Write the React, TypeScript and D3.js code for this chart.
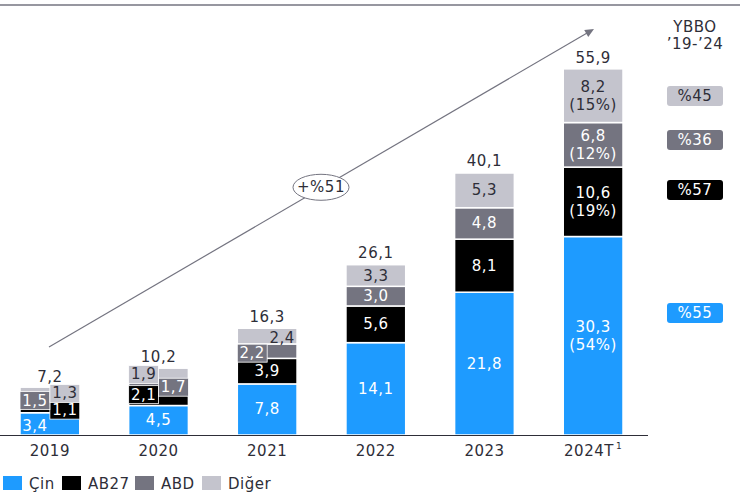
import * as d3 from "d3";

// ── Data ──────────────────────────────────────────────
const YEARS = ["2019", "2020", "2021", "2022", "2023", "2024T"];
const SERIES = ["Çin", "AB27", "ABD", "Diğer"];
const CIN = [3.4, 4.5, 7.8, 14.1, 21.8, 30.3];
const AB27 = [1.1, 2.1, 3.9, 5.6, 8.1, 10.6];
const ABD = [1.5, 1.7, 2.2, 3.0, 4.8, 6.8];
const DIGER = [1.3, 1.9, 2.4, 3.3, 5.3, 8.2];
const TOTALS = [7.2, 10.2, 16.3, 26.1, 40.1, 55.9];
const CAGR = ["%55", "%57", "%36", "%45"];
const ARROW_LABEL = "+%51";
const CAGR_TITLE = ["YBBO", "’19-’24"];

// ── Styles / layout ───────────────────────────────────────
const W = 745;
const H = 496;
const BASE_Y = 435;
const COLORS = ["#1E9BFF", "#000000", "#747480", "#C4C4CD"];
const TEXT_ON = ["#ffffff", "#ffffff", "#ffffff", "#2E2E38"];
const DARK = "#2E2E38";
const FONT = "'DejaVu Sans', Verdana, sans-serif";
const FS = 15;
const LS = 0.5;

// small-segment label placement: pos = half of the bar, box = coloured backing
type Lbl = { pos: "c" | "l" | "r"; box?: boolean; dy?: number };
const LABELS: Record<string, Lbl> = {
  "2019|Çin": { pos: "l", dy: 2 },
  "2019|AB27": { pos: "r", box: true, dy: 1 },
  "2019|ABD": { pos: "l", box: true, dy: 0 },
  "2019|Diğer": { pos: "r", box: true, dy: 2 },
  "2020|AB27": { pos: "l", box: true, dy: -4 },
  "2020|ABD": { pos: "r", box: true, dy: 1 },
  "2020|Diğer": { pos: "l", box: true, dy: 0 },
  "2021|ABD": { pos: "l", box: true, dy: 2 },
  "2021|Diğer": { pos: "r", dy: 2 },
};
// CAGR badges (y centres per series)
const BADGE_Y = [313, 190, 140, 96];
const LEGEND_X = [3, 62, 135, 202];

const fmt = (v: number) => v.toFixed(1).replace(".", ",");

export default function App() {
  const rows = YEARS.map((y, i) => ({
    year: y,
    "Çin": CIN[i],
    AB27: AB27[i],
    ABD: ABD[i],
    "Diğer": DIGER[i],
  }));
  const stack = d3.stack<any>().keys(SERIES)(rows);

  const x = d3.scaleBand<string>().domain(YEARS).range([20, 623]).paddingInner(0.45).paddingOuter(0);
  const y = d3.scaleLinear().domain([0, 60]).range([BASE_Y, BASE_Y - 60 * 6.55]);
  const bw = x.bandwidth();
  const last = YEARS.length - 1;

  // growth arrow
  const a0 = { x: 49, y: 347 };
  const a1 = { x: 594, y: 29 };
  const ang = Math.atan2(a1.y - a0.y, a1.x - a0.x);
  const ah = 9;
  const arrowHead = `M${a1.x},${a1.y} L${a1.x - ah * Math.cos(ang) + 4 * Math.sin(ang)},${a1.y - ah * Math.sin(ang) - 4 * Math.cos(ang)} L${a1.x - ah * Math.cos(ang) - 4 * Math.sin(ang)},${a1.y - ah * Math.sin(ang) + 4 * Math.cos(ang)} Z`;
  const ex = 321;
  const ey = a0.y + ((ex - a0.x) * (a1.y - a0.y)) / (a1.x - a0.x);

  return (
    <div style={{ position: "absolute", left: 0, top: 0 }}>
      <svg width={W} height={H} style={{ fontFamily: FONT, display: "block", letterSpacing: LS }}>
        <rect width={W} height={H} fill="#fff" />
        {/* top rule */}
        <line x1={0} x2={740} y1={5} y2={5} stroke="#747480" strokeWidth={1.5} />

        {/* arrow */}
        <line x1={a0.x} y1={a0.y} x2={a1.x - 6 * Math.cos(ang)} y2={a1.y - 6 * Math.sin(ang)} stroke="#747480" strokeWidth={1.2} />
        <path d={arrowHead} fill="#747480" />
        <ellipse cx={ex} cy={ey - 1} rx={28} ry={13} fill="#fff" stroke="#747480" strokeWidth={1} />
        <text x={ex} y={ey + 4} textAnchor="middle" fontSize={FS} fill={DARK}>
          {ARROW_LABEL}
        </text>

        {/* segments */}
        {stack.map((s, si) =>
          s.map((d, i) => (
            <rect
              key={`${si}-${i}`}
              x={x(YEARS[i])!}
              width={bw}
              y={y(d[1])}
              height={y(d[0]) - y(d[1])}
              fill={COLORS[si]}
              stroke="#fff"
              strokeWidth={1.5}
            />
          ))
        )}

        {/* segment labels */}
        {stack.map((s, si) =>
          s.map((d, i) => {
            const key = `${YEARS[i]}|${SERIES[si]}`;
            const cfg = LABELS[key] ?? { pos: "c" };
            const x0 = x(YEARS[i])!;
            const cy = (y(d[0]) + y(d[1])) / 2 + (cfg.dy ?? 0);
            const cx = cfg.pos === "c" ? x0 + bw / 2 : cfg.pos === "l" ? x0 + bw / 4 : x0 + (3 * bw) / 4;
            const val = [CIN, AB27, ABD, DIGER][si][i];
            if (i === last) {
              const share = Math.round((val / TOTALS[i]) * 100);
              return (
                <g key={key}>
                  <text x={cx} y={cy - 4} textAnchor="middle" fontSize={FS} fill={TEXT_ON[si]}>{fmt(val)}</text>
                  <text x={cx} y={cy + 14} textAnchor="middle" fontSize={FS} fill={TEXT_ON[si]}>({share}%)</text>
                </g>
              );
            }
            return (
              <g key={key}>
                {cfg.box && (
                  <rect
                    x={cfg.pos === "l" ? x0 : x0 + bw / 2}
                    width={bw / 2}
                    y={cy - 9}
                    height={18}
                    fill={COLORS[si]}
                    stroke="#fff"
                    strokeWidth={0.8}
                  />
                )}
                <text x={cx} y={cy + 5} textAnchor="middle" fontSize={FS} fill={TEXT_ON[si]}>
                  {fmt(val)}
                </text>
              </g>
            );
          })
        )}

        {/* totals */}
        {TOTALS.map((t, i) => (
          <text key={`t${i}`} x={x(YEARS[i])! + bw / 2} y={y(t) - 6} textAnchor="middle" fontSize={FS} fill={DARK}>
            {fmt(t)}
          </text>
        ))}

        {/* baseline */}
        <line x1={0} x2={648} y1={BASE_Y + 0.5} y2={BASE_Y + 0.5} stroke="#2E2E38" strokeWidth={1.2} />

        {/* year labels */}
        {YEARS.map((yr, i) => {
          const cx = x(yr)! + bw / 2;
          if (yr.endsWith("T")) {
            return (
              <text key={yr} x={cx} y={456} textAnchor="middle" fontSize={FS} fill={DARK}>
                {yr}
                <tspan dx={2} dy={-7} fontSize={9}>1</tspan>
              </text>
            );
          }
          return (
            <text key={yr} x={cx} y={456} textAnchor="middle" fontSize={FS} fill={DARK}>
              {yr}
            </text>
          );
        })}

        {/* CAGR column */}
        <text x={695} y={32} textAnchor="middle" fontSize={FS} fill={DARK}>{CAGR_TITLE[0]}</text>
        <text x={695} y={49} textAnchor="middle" fontSize={FS} fill={DARK}>{CAGR_TITLE[1]}</text>
        {CAGR.map((c, si) => (
          <g key={c}>
            <rect x={667} y={BADGE_Y[si] - 10} width={56} height={20} rx={3} fill={COLORS[si]} />
            <text x={695} y={BADGE_Y[si] + 5} textAnchor="middle" fontSize={FS} fill={TEXT_ON[si]}>{c}</text>
          </g>
        ))}

        {/* legend */}
        {SERIES.map((s, si) => (
          <g key={s}>
            <rect x={LEGEND_X[si]} y={476} width={19} height={14} fill={COLORS[si]} />
            <text x={LEGEND_X[si] + 26} y={489} fontSize={FS} fill={DARK}>{s}</text>
          </g>
        ))}
      </svg>
    </div>
  );
}
